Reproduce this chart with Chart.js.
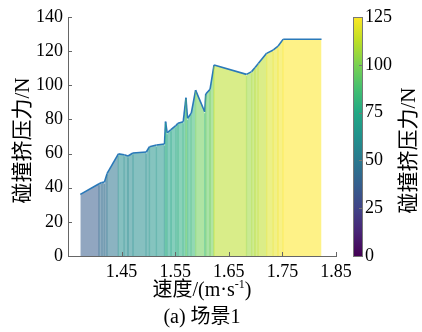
<!DOCTYPE html>
<html>
<head>
<meta charset="utf-8">
<script src="https://cdn.jsdelivr.net/npm/chart.js@4.4.0/dist/chart.umd.min.js"></script>
<style>
   html, body { margin: 0; padding: 0; background: #fff; }
</style>
</head>
<body>
<canvas id="grafico" width="422" height="332"></canvas>
<script>
// dados
const velocidade = [1.373, 1.408, 1.413, 1.418, 1.423, 1.444, 1.455, 1.462, 1.471, 1.496, 1.502, 1.515, 1.530,
   1.532, 1.535, 1.542, 1.551, 1.555, 1.565, 1.570, 1.573, 1.580, 1.588, 1.605, 1.607, 1.615, 1.6225,
   1.683, 1.6925, 1.699, 1.705, 1.7205, 1.733, 1.742, 1.7515, 1.823];
const forca = [36.1, 42.3, 43.0, 43.3, 48.4, 59.8, 59.3, 58.6, 60.3, 60.9, 64.0, 65.0, 65.6,
   78.7, 72.2, 74.0, 76.3, 77.7, 78.7, 92.7, 80.7, 83.6, 97.2, 84.5, 94.9, 97.6, 111.9,
   106.4, 108.0, 110.4, 112.7, 118.7, 120.7, 123.0, 127.0, 127.0];
const xTicks = [1.35, 1.45, 1.55, 1.65, 1.75, 1.85];
const yTicks = [0, 20, 40, 60, 80, 100, 120, 140];
const cbTicks = [0, 25, 50, 75, 100, 125];

const serif = "'Liberation Serif', 'Noto Sans CJK SC', serif";
const cbMax = 125;

const viridis = [
   [0.0, 68, 1, 84], [0.1, 72, 36, 117], [0.2, 65, 68, 135], [0.3, 53, 95, 141],
   [0.4, 42, 120, 142], [0.5, 33, 145, 140], [0.6, 34, 168, 132], [0.7, 68, 191, 112],
   [0.8, 122, 209, 81], [0.9, 189, 223, 38], [1.0, 253, 231, 37]
];

function cor(v, alpha) {
   let t = Math.max(0, Math.min(1, v / cbMax));
   for (let i = 1; i < viridis.length; i++) {
      if (t <= viridis[i][0]) {
         const a = viridis[i - 1], b = viridis[i];
         const f = (t - a[0]) / (b[0] - a[0]);
         const r = Math.round(a[1] + f * (b[1] - a[1]));
         const g = Math.round(a[2] + f * (b[2] - a[2]));
         const bl = Math.round(a[3] + f * (b[3] - a[3]));
         return `rgba(${r},${g},${bl},${alpha})`;
      }
   }
   return `rgba(253,231,37,${alpha})`;
}

const pontos = velocidade.map((v, i) => ({ x: v, y: forca[i] }));

// tira o padding automatico dos eixos
function semPadding(s) {
   s.paddingTop = 0;
   s.paddingBottom = 0;
   s.paddingLeft = 0;
   s.paddingRight = 0;
}

// listras verticais nos pontos
const listras = {
   id: 'listras',
   afterDatasetsDraw(chart) {
      const c = chart.ctx;
      const x = chart.scales.x, y = chart.scales.y;
      c.save();
      c.lineWidth = 1.2;
      pontos.forEach((p, i) => {
         if (i == 0 || i == pontos.length - 1) return;
         const px = x.getPixelForValue(p.x);
         c.strokeStyle = cor(p.y, 0.55);
         c.beginPath();
         c.moveTo(px, y.getPixelForValue(0));
         c.lineTo(px, y.getPixelForValue(p.y) + 1.5);
         c.stroke();
      });
      c.restore();
   }
};

// colorbar, ticks para dentro e titulos
const extras = {
   id: 'extras',
   afterDraw(chart) {
      const c = chart.ctx, a = chart.chartArea;
      const x = chart.scales.x, y = chart.scales.y, cb = chart.scales.cb;
      c.save();
      c.strokeStyle = '#666';
      c.lineWidth = 1;
      xTicks.forEach(t => {
         const px = Math.round(x.getPixelForValue(t)) + 0.5;
         c.beginPath(); c.moveTo(px, a.bottom); c.lineTo(px, a.bottom - 4); c.stroke();
      });
      yTicks.forEach(t => {
         const py = Math.round(y.getPixelForValue(t)) + 0.5;
         c.beginPath(); c.moveTo(a.left, py); c.lineTo(a.left + 4, py); c.stroke();
      });

      const bx = a.right + 17, bw = 9;
      const y0 = cb.getPixelForValue(0), y1 = cb.getPixelForValue(cbMax);
      const g = c.createLinearGradient(0, y0, 0, y1);
      viridis.forEach(s => g.addColorStop(s[0], `rgb(${s[1]},${s[2]},${s[3]})`));
      c.fillStyle = g;
      c.fillRect(bx, y1, bw, y0 - y1);
      c.strokeStyle = '#777';
      c.strokeRect(bx + 0.5, y1 + 0.5, bw, y0 - y1);
      cbTicks.forEach(t => {
         const py = Math.round(cb.getPixelForValue(t)) + 0.5;
         c.beginPath(); c.moveTo(bx + bw, py); c.lineTo(bx + bw - 3, py); c.stroke();
      });

      c.fillStyle = '#000';
      c.font = '21px ' + serif;
      c.textAlign = 'center';
      c.textBaseline = 'middle';
      const meio = (a.top + a.bottom) / 2 + 4;
      c.save(); c.translate(23, meio); c.rotate(-Math.PI / 2); c.fillText('碰撞挤压力/N', 0, 0); c.restore();
      c.save(); c.translate(409, meio + 10); c.rotate(-Math.PI / 2); c.fillText('碰撞挤压力/N', 0, 0); c.restore();

      // titulo x com sobrescrito
      const cx = (a.left + a.right) / 2, ty = 291;
      const p1 = '速度/(m·s', sup = '-1', p2 = ')';
      c.font = '20px ' + serif;
      const w1 = c.measureText(p1).width, w3 = c.measureText(p2).width;
      c.font = '12px ' + serif;
      const w2 = c.measureText(sup).width;
      let sx = cx - (w1 + w2 + w3) / 2;
      c.textAlign = 'left';
      c.font = '20px ' + serif;
      c.fillText(p1, sx, ty);
      c.font = '12px ' + serif;
      c.fillText(sup, sx + w1, ty - 6);
      c.font = '20px ' + serif;
      c.fillText(p2, sx + w1 + w2, ty);

      c.textAlign = 'center';
      c.fillText('(a) 场景1', cx, 318);
      c.restore();
   }
};

new Chart(document.getElementById('grafico'), {
   type: 'line',
   data: {
      datasets: [{
         data: pontos,
         borderColor: '#2a79b9',
         borderWidth: 1.6,
         pointRadius: 0,
         tension: 0,
         fill: 'origin',
         backgroundColor: cor(100, 0.55),
         segment: {
            backgroundColor: ctx => cor(ctx.p0.parsed.y, 0.55)
         }
      }]
   },
   options: {
      responsive: false,
      animation: false,
      devicePixelRatio: 1,
      layout: { padding: { top: 17, left: 0, right: 0, bottom: 0 } },
      plugins: { legend: { display: false }, tooltip: { enabled: false } },
      scales: {
         x: {
            type: 'linear',
            min: 1.35,
            max: 1.85,
            afterBuildTicks: s => { s.ticks = xTicks.map(v => ({ value: v })); },
            afterFit: s => { s.height = 76; semPadding(s); },
            grid: { display: false, drawTicks: false },
            border: { display: true, color: '#666', width: 1 },
            ticks: {
               padding: 5,
               color: '#000',
               font: { family: serif, size: 18 },
               maxRotation: 0,
               autoSkip: false,
               callback: v => v < 1.4 ? '' : v.toFixed(2)
            }
         },
         y: {
            min: 0,
            max: 140,
            afterBuildTicks: s => { s.ticks = yTicks.map(v => ({ value: v })); },
            afterFit: s => { s.width = 68; semPadding(s); },
            grid: { display: false, drawTicks: false },
            border: { display: true, color: '#666', width: 1 },
            ticks: { padding: 5, color: '#000', font: { family: serif, size: 18 } }
         },
         cb: {
            position: 'right',
            min: 0,
            max: cbMax,
            afterBuildTicks: s => { s.ticks = cbTicks.map(v => ({ value: v })); },
            afterFit: s => { s.width = 86; semPadding(s); },
            grid: { display: false, drawTicks: false },
            border: { display: false },
            ticks: { padding: 29, color: '#000', font: { family: serif, size: 18 } }
         }
      }
   },
   plugins: [listras, extras]
});
</script>
</body>
</html>
